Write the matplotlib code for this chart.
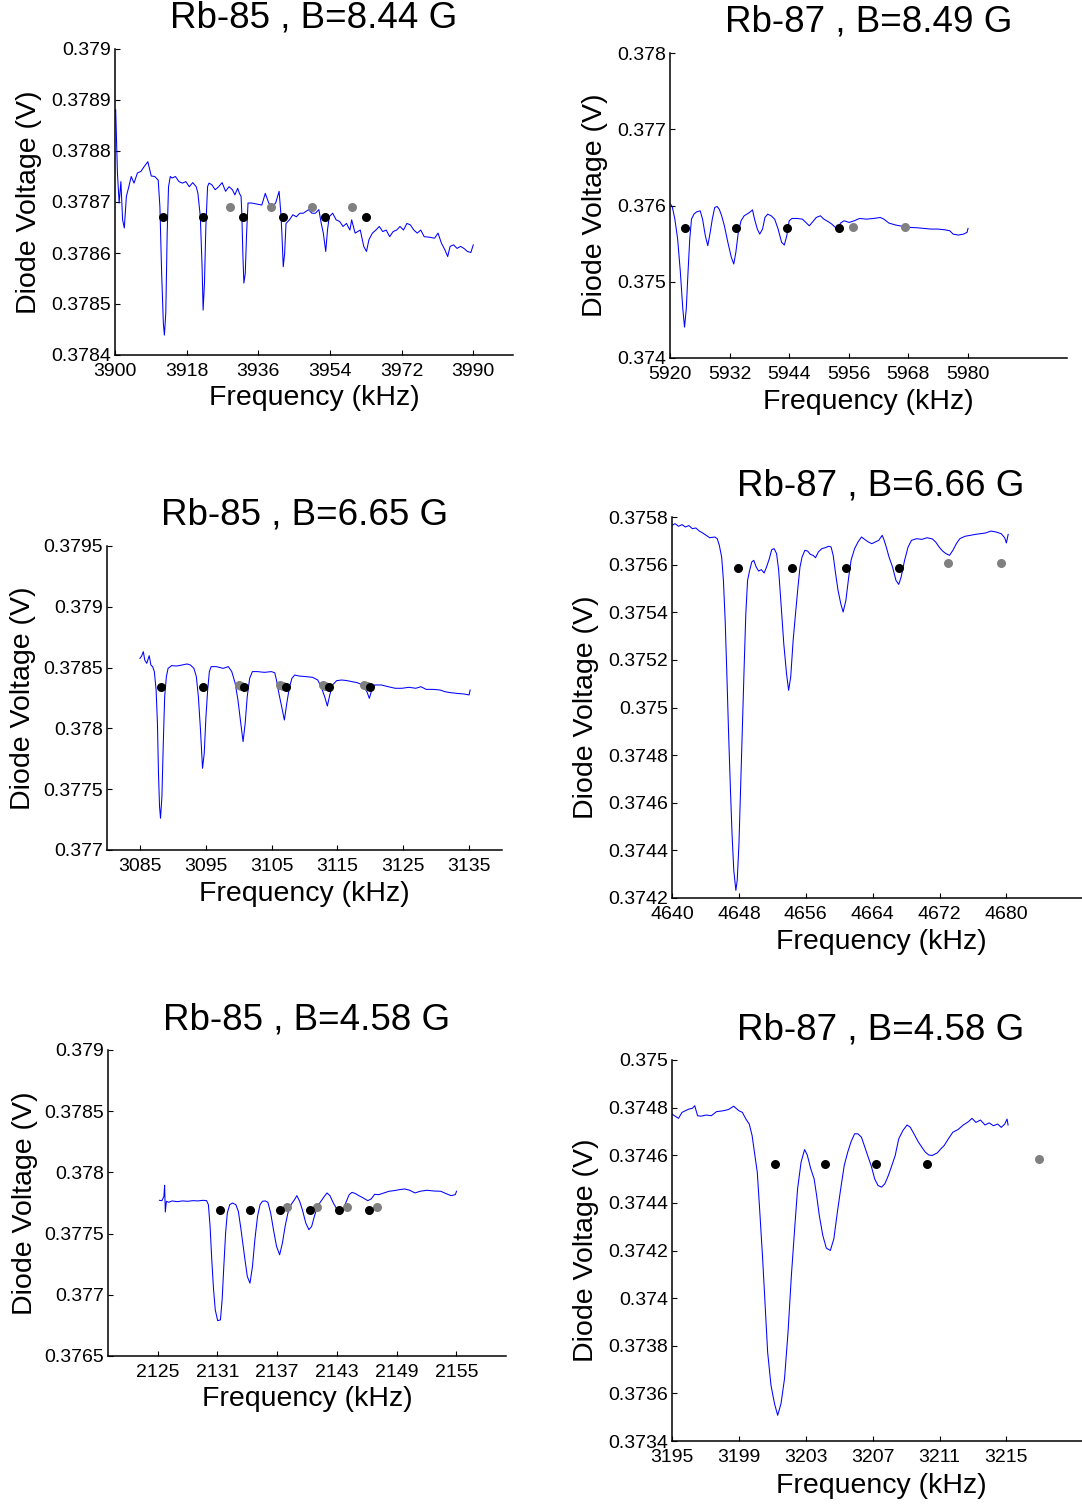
import matplotlib
matplotlib.use("Agg")
import matplotlib.pyplot as plt

plt.rcParams['font.family'] = ['Liberation Sans', 'DejaVu Sans']

# ---------------- data ----------------
# Panel 1: Rb-85, B=8.44 G
f85_844 = [3900.17, 3900.61, 3901.04, 3901.48, 3901.91, 3902.34, 3902.86, 3903.47, 3904.08, 3904.77,
           3905.64, 3906.51, 3907.38, 3908.25, 3909.11, 3909.98, 3910.85, 3911.28, 3911.72, 3912.15,
           3912.41, 3912.76, 3913.11, 3913.45, 3913.89, 3914.32, 3915.19, 3916.06, 3916.93, 3917.80,
           3918.66, 3919.53, 3920.40, 3920.83, 3921.44, 3921.88, 3922.14, 3922.48, 3922.83, 3923.26,
           3923.61, 3924.31, 3925.17, 3926.04, 3926.91, 3927.78, 3928.65, 3929.51, 3930.12, 3930.82,
           3931.25, 3931.68, 3931.86, 3932.12, 3932.38, 3932.73, 3933.07, 3933.42, 3934.29, 3935.59,
           3936.89, 3937.76, 3938.63, 3939.50, 3940.36, 3941.23, 3941.67, 3941.93, 3942.27, 3942.62,
           3942.97, 3943.84, 3944.70, 3945.57, 3946.44, 3947.31, 3948.61, 3949.48, 3950.35, 3951.22,
           3951.82, 3952.34, 3952.95, 3953.39, 3953.82, 3954.69, 3955.56, 3956.42, 3957.29, 3958.16,
           3959.03, 3959.46, 3960.33, 3961.63, 3962.50, 3963.19, 3963.80, 3964.67, 3965.54, 3966.41,
           3967.27, 3968.14, 3969.01, 3969.88, 3970.75, 3971.61, 3972.48, 3973.35, 3974.22, 3975.09,
           3975.95, 3976.82, 3977.69, 3978.99, 3980.30, 3981.16, 3982.03, 3982.90, 3983.59, 3984.20,
           3985.07, 3985.94, 3986.81, 3987.67, 3988.54, 3989.41, 3990.02]
v85_844 = [0.378881, 0.378757, 0.378698, 0.378740, 0.378665, 0.378649, 0.378711, 0.378730, 0.378750, 0.378737,
           0.378757, 0.378760, 0.378770, 0.378779, 0.378751, 0.378750, 0.378743, 0.378691, 0.378560, 0.378462,
           0.378439, 0.378482, 0.378639, 0.378730, 0.378750, 0.378747, 0.378750, 0.378740, 0.378737, 0.378740,
           0.378730, 0.378738, 0.378730, 0.378717, 0.378671, 0.378573, 0.378488, 0.378541, 0.378652, 0.378730,
           0.378737, 0.378734, 0.378724, 0.378730, 0.378738, 0.378721, 0.378730, 0.378724, 0.378714, 0.378727,
           0.378717, 0.378711, 0.378678, 0.378599, 0.378541, 0.378560, 0.378639, 0.378698, 0.378698, 0.378696,
           0.378694, 0.378717, 0.378698, 0.378691, 0.378698, 0.378721, 0.378678, 0.378639, 0.378573, 0.378599,
           0.378658, 0.378665, 0.378675, 0.378671, 0.378678, 0.378678, 0.378685, 0.378678, 0.378678, 0.378685,
           0.378658, 0.378639, 0.378603, 0.378645, 0.378671, 0.378678, 0.378665, 0.378662, 0.378652, 0.378658,
           0.378645, 0.378665, 0.378639, 0.378645, 0.378613, 0.378603, 0.378626, 0.378639, 0.378645, 0.378652,
           0.378642, 0.378645, 0.378632, 0.378642, 0.378645, 0.378652, 0.378645, 0.378658, 0.378655, 0.378645,
           0.378639, 0.378645, 0.378632, 0.378631, 0.378629, 0.378639, 0.378619, 0.378606, 0.378593, 0.378613,
           0.378616, 0.378609, 0.378613, 0.378609, 0.378603, 0.378601, 0.378616]
black_f_85_844 = [3912.15, 3922.14, 3932.12, 3942.27, 3952.69, 3963.19]
black_v_85_844 = [0.378671] * 6
gray_f_85_844 = [3928.82, 3939.24, 3949.48, 3959.64]
gray_v_85_844 = [0.378691] * 4

# Panel 2: Rb-87, B=8.49 G
f87_849 = [5920.14, 5920.49, 5920.98, 5921.54, 5922.09, 5922.58, 5922.93, 5923.28, 5923.63, 5923.98,
           5924.33, 5924.82, 5925.38, 5926.08, 5926.56, 5927.12, 5927.61, 5928.10, 5928.52, 5929.01,
           5929.50, 5929.92, 5930.41, 5930.96, 5931.66, 5932.36, 5932.85, 5933.27, 5933.76, 5934.32,
           5934.94, 5935.50, 5936.20, 5936.62, 5937.04, 5937.60, 5938.09, 5938.65, 5939.13, 5939.69,
           5940.39, 5941.09, 5941.79, 5942.49, 5943.04, 5943.53, 5944.02, 5944.58, 5945.63, 5946.68,
           5947.37, 5948.07, 5948.77, 5949.47, 5950.31, 5951.01, 5951.91, 5952.61, 5953.31, 5953.80,
           5954.36, 5955.06, 5956.10, 5957.15, 5958.20, 5959.59, 5960.99, 5962.39, 5963.09, 5964.13,
           5965.53, 5966.93, 5968.32, 5969.72, 5971.12, 5972.51, 5973.91, 5975.31, 5976.36, 5977.05,
           5978.10, 5979.15, 5979.85, 5980.06]
v87_849 = [0.376017, 0.375974, 0.375821, 0.375560, 0.375124, 0.374645, 0.374405, 0.374645, 0.375124, 0.375560,
           0.375821, 0.375887, 0.375917, 0.375930, 0.375821, 0.375603, 0.375473, 0.375647, 0.375821, 0.375974,
           0.375987, 0.375952, 0.375865, 0.375734, 0.375517, 0.375320, 0.375233, 0.375386, 0.375647, 0.375800,
           0.375865, 0.375887, 0.375917, 0.375943, 0.375821, 0.375691, 0.375625, 0.375691, 0.375843, 0.375887,
           0.375865, 0.375821, 0.375691, 0.375517, 0.375482, 0.375603, 0.375800, 0.375830, 0.375830, 0.375821,
           0.375778, 0.375734, 0.375787, 0.375843, 0.375865, 0.375821, 0.375787, 0.375756, 0.375713, 0.375691,
           0.375769, 0.375800, 0.375778, 0.375800, 0.375830, 0.375821, 0.375830, 0.375843, 0.375821, 0.375769,
           0.375743, 0.375726, 0.375713, 0.375708, 0.375700, 0.375691, 0.375691, 0.375682, 0.375669, 0.375625,
           0.375612, 0.375625, 0.375647, 0.375700]
black_f_87_849 = [5922.93, 5933.20, 5943.53, 5954.01]
black_v_87_849 = [0.375699] * 4
gray_f_87_849 = [5956.94, 5967.28]
gray_v_87_849 = [0.375721] * 2

# Panel 3: Rb-85, B=6.65 G
f85_665 = [3085.00, 3085.26, 3085.52, 3085.73, 3086.04, 3086.41, 3086.67, 3086.93, 3087.19, 3087.46,
           3087.66, 3087.82, 3087.98, 3088.13, 3088.34, 3088.55, 3088.76, 3089.02, 3089.28, 3089.81,
           3090.59, 3091.37, 3092.16, 3092.68, 3093.20, 3093.57, 3093.88, 3094.20, 3094.51, 3094.77,
           3095.03, 3095.29, 3095.55, 3095.82, 3096.60, 3097.64, 3098.43, 3098.95, 3099.47, 3099.89,
           3100.26, 3100.67, 3100.99, 3101.30, 3101.67, 3102.08, 3102.87, 3103.91, 3104.96, 3105.48,
           3105.74, 3106.11, 3106.53, 3106.94, 3107.31, 3107.68, 3108.09, 3108.51, 3109.14, 3110.18,
           3111.23, 3112.01, 3112.53, 3113.06, 3113.47, 3113.84, 3114.26, 3114.89, 3115.67, 3116.45,
           3117.24, 3118.02, 3118.80, 3119.48, 3119.85, 3120.21, 3120.63, 3121.68, 3122.72, 3123.77,
           3124.81, 3125.86, 3126.90, 3127.69, 3128.47, 3129.51, 3130.56, 3131.34, 3132.13, 3133.17,
           3134.22, 3135.00, 3135.16]
v85_665 = [0.378576, 0.378595, 0.378631, 0.378563, 0.378535, 0.378598, 0.378521, 0.378508, 0.378467, 0.378316,
           0.378042, 0.377631, 0.377357, 0.377261, 0.377439, 0.377877, 0.378261, 0.378426, 0.378494, 0.378516,
           0.378513, 0.378521, 0.378530, 0.378521, 0.378494, 0.378426, 0.378261, 0.377987, 0.377672, 0.377795,
           0.378097, 0.378316, 0.378467, 0.378508, 0.378508, 0.378494, 0.378508, 0.378467, 0.378371, 0.378234,
           0.378069, 0.377891, 0.378042, 0.378261, 0.378412, 0.378467, 0.378467, 0.378461, 0.378467, 0.378458,
           0.378398, 0.378288, 0.378179, 0.378069, 0.378206, 0.378330, 0.378412, 0.378439, 0.378431, 0.378426,
           0.378420, 0.378398, 0.378343, 0.378261, 0.378184, 0.378275, 0.378357, 0.378393, 0.378398, 0.378393,
           0.378384, 0.378376, 0.378357, 0.378302, 0.378247, 0.378316, 0.378357, 0.378357, 0.378343, 0.378330,
           0.378330, 0.378338, 0.378330, 0.378343, 0.378321, 0.378321, 0.378316, 0.378302, 0.378294, 0.378288,
           0.378283, 0.378275, 0.378316]
black_f_85_665 = [3088.13, 3094.51, 3100.88, 3107.20, 3113.68, 3120.01]
black_v_85_665 = [0.378338] * 6
gray_f_85_665 = [3099.98, 3100.38, 3106.30, 3106.70, 3112.78, 3113.18, 3119.11, 3119.51]
gray_v_85_665 = [0.378355, 0.378348] * 4

# Panel 4: Rb-87, B=6.66 G
f87_666 = [4640.00, 4640.37, 4640.78, 4641.20, 4641.61, 4642.02, 4642.44, 4642.85, 4643.26, 4643.67,
           4644.09, 4644.50, 4645.12, 4645.41, 4645.66, 4645.94, 4646.15, 4646.36, 4646.56, 4646.77,
           4646.98, 4647.18, 4647.39, 4647.64, 4647.80, 4648.01, 4648.21, 4648.42, 4648.63, 4648.83,
           4649.04, 4649.29, 4649.54, 4649.78, 4650.07, 4650.36, 4650.69, 4651.02, 4651.31, 4651.64,
           4651.93, 4652.22, 4652.51, 4652.76, 4653.04, 4653.37, 4653.70, 4653.95, 4654.20, 4654.49,
           4654.74, 4655.03, 4655.31, 4655.56, 4655.89, 4656.22, 4656.55, 4656.88, 4657.17, 4657.50,
           4657.92, 4658.33, 4658.74, 4659.03, 4659.28, 4659.57, 4659.86, 4660.19, 4660.47, 4660.80,
           4661.14, 4661.42, 4661.84, 4662.25, 4662.66, 4663.08, 4663.49, 4663.90, 4664.31, 4664.73,
           4665.14, 4665.35, 4665.63, 4665.96, 4666.38, 4666.79, 4667.12, 4667.41, 4667.82, 4668.24,
           4668.65, 4669.27, 4669.89, 4670.51, 4671.13, 4671.54, 4671.95, 4672.37, 4672.78, 4673.19,
           4673.60, 4674.01, 4674.43, 4675.05, 4675.67, 4676.28, 4676.90, 4677.52, 4678.14, 4678.76,
           4679.38, 4679.79, 4680.00, 4680.21]
v87_666 = [0.375765, 0.375772, 0.375761, 0.375768, 0.375758, 0.375764, 0.375751, 0.375754, 0.375741, 0.375733,
           0.375723, 0.375713, 0.375716, 0.375709, 0.375681, 0.375632, 0.375534, 0.375366, 0.375142, 0.374890,
           0.374666, 0.374470, 0.374316, 0.374232, 0.374274, 0.374428, 0.374666, 0.374918, 0.375170, 0.375394,
           0.375534, 0.375576, 0.375611, 0.375618, 0.375590, 0.375573, 0.375579, 0.375565, 0.375590, 0.375625,
           0.375663, 0.375667, 0.375646, 0.375576, 0.375436, 0.375268, 0.375142, 0.375072, 0.375128, 0.375282,
           0.375380, 0.375492, 0.375590, 0.375632, 0.375660, 0.375657, 0.375643, 0.375639, 0.375629, 0.375653,
           0.375667, 0.375671, 0.375677, 0.375674, 0.375639, 0.375562, 0.375492, 0.375436, 0.375401, 0.375450,
           0.375548, 0.375618, 0.375667, 0.375695, 0.375716, 0.375705, 0.375695, 0.375688, 0.375695, 0.375702,
           0.375723, 0.375705, 0.375674, 0.375632, 0.375590, 0.375534, 0.375517, 0.375548, 0.375618, 0.375674,
           0.375702, 0.375709, 0.375706, 0.375713, 0.375708, 0.375695, 0.375674, 0.375657, 0.375646, 0.375639,
           0.375660, 0.375688, 0.375709, 0.375719, 0.375723, 0.375727, 0.375730, 0.375733, 0.375741, 0.375737,
           0.375730, 0.375713, 0.375691, 0.375727]
black_f_87_666 = [4647.93, 4654.41, 4660.81, 4667.20]
black_v_87_666 = [0.375587] * 4
gray_f_87_666 = [4672.98, 4679.30]
gray_v_87_666 = [0.375608] * 2

# Panel 5: Rb-85, B=4.58 G
f85_458 = [2125.17, 2125.42, 2125.62, 2125.69, 2125.76, 2125.87, 2126.11, 2126.45, 2126.97, 2127.49,
           2128.01, 2128.53, 2129.05, 2129.57, 2129.91, 2130.09, 2130.26, 2130.43, 2130.61, 2130.78,
           2131.02, 2131.30, 2131.47, 2131.64, 2131.82, 2131.99, 2132.23, 2132.51, 2132.85, 2133.10,
           2133.37, 2133.72, 2134.00, 2134.27, 2134.52, 2134.76, 2135.03, 2135.28, 2135.52, 2135.80,
           2136.07, 2136.35, 2136.63, 2136.94, 2137.25, 2137.53, 2137.80, 2138.08, 2138.39, 2138.74,
           2138.98, 2139.26, 2139.53, 2139.88, 2140.19, 2140.47, 2140.74, 2141.06, 2141.40, 2141.75,
           2142.02, 2142.30, 2142.65, 2142.99, 2143.34, 2143.69, 2143.96, 2144.24, 2144.52, 2144.86,
           2145.21, 2145.66, 2146.11, 2146.45, 2146.80, 2147.21, 2147.73, 2148.25, 2148.77, 2149.29,
           2149.81, 2150.33, 2150.85, 2151.37, 2152.06, 2152.75, 2153.44, 2153.96, 2154.48, 2154.90,
           2155.03]
v85_458 = [0.377772, 0.377769, 0.377805, 0.377895, 0.377676, 0.377764, 0.377756, 0.377767, 0.377761, 0.377767,
           0.377764, 0.377769, 0.377767, 0.377772, 0.377769, 0.377736, 0.377559, 0.377286, 0.377041, 0.376877,
           0.376789, 0.376795, 0.376959, 0.377232, 0.377505, 0.377668, 0.377736, 0.377750, 0.377736, 0.377682,
           0.377532, 0.377314, 0.377150, 0.377095, 0.377232, 0.377450, 0.377641, 0.377736, 0.377764, 0.377767,
           0.377756, 0.377668, 0.377532, 0.377395, 0.377327, 0.377423, 0.377559, 0.377668, 0.377736, 0.377777,
           0.377810, 0.377764, 0.377696, 0.377586, 0.377532, 0.377559, 0.377641, 0.377723, 0.377764, 0.377805,
           0.377832, 0.377810, 0.377750, 0.377701, 0.377687, 0.377709, 0.377764, 0.377818, 0.377837, 0.377827,
           0.377810, 0.377791, 0.377769, 0.377783, 0.377821, 0.377818, 0.377832, 0.377846, 0.377851, 0.377859,
           0.377865, 0.377854, 0.377832, 0.377846, 0.377854, 0.377848, 0.377846, 0.377827, 0.377810, 0.377818,
           0.377846]
black_f_85_458 = [2131.23, 2134.24, 2137.25, 2140.26, 2143.24, 2146.28]
black_v_85_458 = [0.377690] * 6
gray_f_85_458 = [2138.04, 2141.02, 2144.03, 2147.04]
gray_v_85_458 = [0.377717] * 4

# Panel 6: Rb-87, B=4.58 G
f87_458 = [3195.00, 3195.19, 3195.39, 3195.60, 3195.80, 3196.01, 3196.22, 3196.36, 3196.53, 3196.73,
           3197.04, 3197.35, 3197.66, 3198.08, 3198.38, 3198.69, 3199.00, 3199.21, 3199.42, 3199.62,
           3199.79, 3199.93, 3200.10, 3200.24, 3200.41, 3200.55, 3200.72, 3200.92, 3201.13, 3201.32,
           3201.52, 3201.73, 3201.94, 3202.14, 3202.35, 3202.51, 3202.72, 3202.93, 3203.09, 3203.30,
           3203.50, 3203.65, 3203.81, 3204.02, 3204.23, 3204.47, 3204.68, 3204.89, 3205.09, 3205.30,
           3205.51, 3205.71, 3205.92, 3206.12, 3206.33, 3206.50, 3206.70, 3206.91, 3207.12, 3207.32,
           3207.53, 3207.73, 3207.94, 3208.15, 3208.35, 3208.56, 3208.81, 3209.06, 3209.26, 3209.47,
           3209.74, 3209.94, 3210.15, 3210.36, 3210.56, 3210.87, 3211.08, 3211.28, 3211.53, 3211.80,
           3212.11, 3212.42, 3212.73, 3212.94, 3213.18, 3213.45, 3213.72, 3213.97, 3214.22, 3214.48,
           3214.69, 3214.90, 3215.04, 3215.10]
v87_458 = [0.374773, 0.374764, 0.374755, 0.374780, 0.374787, 0.374794, 0.374797, 0.374808, 0.374766, 0.374764,
           0.374769, 0.374766, 0.374783, 0.374787, 0.374792, 0.374806, 0.374787, 0.374780, 0.374752, 0.374731,
           0.374683, 0.374613, 0.374529, 0.374375, 0.374179, 0.373997, 0.373773, 0.373634, 0.373557, 0.373508,
           0.373557, 0.373662, 0.373857, 0.374095, 0.374305, 0.374459, 0.374571, 0.374624, 0.374601, 0.374543,
           0.374501, 0.374431, 0.374347, 0.374263, 0.374210, 0.374200, 0.374249, 0.374361, 0.374459, 0.374557,
           0.374613, 0.374657, 0.374690, 0.374690, 0.374676, 0.374641, 0.374599, 0.374557, 0.374501, 0.374473,
           0.374466, 0.374480, 0.374515, 0.374557, 0.374599, 0.374669, 0.374704, 0.374727, 0.374717, 0.374690,
           0.374655, 0.374634, 0.374613, 0.374601, 0.374599, 0.374610, 0.374627, 0.374641, 0.374669, 0.374697,
           0.374708, 0.374727, 0.374741, 0.374755, 0.374738, 0.374748, 0.374727, 0.374736, 0.374724, 0.374731,
           0.374717, 0.374731, 0.374752, 0.374727]
black_f_87_458 = [3201.19, 3204.16, 3207.20, 3210.25]
black_v_87_458 = [0.374564] * 4
gray_f_87_458 = [3216.96]
gray_v_87_458 = [0.374585]

titles = ["Rb-85 , B=8.44 G", "Rb-87 , B=8.49 G", "Rb-85 , B=6.65 G",
          "Rb-87 , B=6.66 G", "Rb-85 , B=4.58 G", "Rb-87 , B=4.58 G"]

xticks = [[3900, 3918, 3936, 3954, 3972, 3990],
          [5920, 5932, 5944, 5956, 5968, 5980],
          [3085, 3095, 3105, 3115, 3125, 3135],
          [4640, 4648, 4656, 4664, 4672, 4680],
          [2125, 2131, 2137, 2143, 2149, 2155],
          [3195, 3199, 3203, 3207, 3211, 3215]]
xlims = [(3900, 4000), (5920, 6000), (3080, 3140), (4640, 4690), (2120, 2160), (3195, 3220)]

ytick_labels = [["0.3784", "0.3785", "0.3786", "0.3787", "0.3788", "0.3789", "0.379"],
                ["0.374", "0.375", "0.376", "0.377", "0.378"],
                ["0.377", "0.3775", "0.378", "0.3785", "0.379", "0.3795"],
                ["0.3742", "0.3744", "0.3746", "0.3748", "0.375", "0.3752", "0.3754", "0.3756", "0.3758"],
                ["0.3765", "0.377", "0.3775", "0.378", "0.3785", "0.379"],
                ["0.3734", "0.3736", "0.3738", "0.374", "0.3742", "0.3744", "0.3746", "0.3748", "0.375"]]

curves = [(f85_844, v85_844), (f87_849, v87_849), (f85_665, v85_665),
          (f87_666, v87_666), (f85_458, v85_458), (f87_458, v87_458)]
blacks = [(black_f_85_844, black_v_85_844), (black_f_87_849, black_v_87_849),
          (black_f_85_665, black_v_85_665), (black_f_87_666, black_v_87_666),
          (black_f_85_458, black_v_85_458), (black_f_87_458, black_v_87_458)]
grays = [(gray_f_85_844, gray_v_85_844), (gray_f_87_849, gray_v_87_849),
         (gray_f_85_665, gray_v_85_665), (gray_f_87_666, gray_v_87_666),
         (gray_f_85_458, gray_v_85_458), (gray_f_87_458, gray_v_87_458)]

# ---------------- layout (pixels) ----------------
W, H = 1082, 1504
fig = plt.figure(figsize=(W / 100, H / 100), dpi=100)

boxes = [(115, 49, 513, 355), (670, 53, 1067, 358), (107, 546, 502, 850),
         (672, 517, 1090, 898), (108, 1050, 506, 1356), (672, 1060, 1090, 1441)]
title_y = [18, 22, 515, 486, 1020, 1030]
xlabel_y = [398, 402, 894, 942, 1399, 1486]
ylabel_x = [29, 595, 23, 586, 25, 586]

for i in range(6):
    l, t, r, b = boxes[i]
    ax = fig.add_axes([l / W, 1 - b / H, (r - l) / W, (b - t) / H])
    f, v = curves[i]
    ax.plot(f, v, color=(0, 0, 1), lw=0.75, zorder=2)
    gf, gv = grays[i]
    ax.plot(gf, gv, 'o', color=(0.5, 0.5, 0.5), ms=6.5, mec='none', zorder=3)
    bf, bv = blacks[i]
    ax.plot(bf, bv, 'o', color='black', ms=6.5, mec='none', zorder=4)

    ax.set_xlim(*xlims[i])
    ax.set_xticks(xticks[i])
    ax.set_xticklabels([str(x) for x in xticks[i]])
    yl = ytick_labels[i]
    yvals = [float(s) for s in yl]
    ax.set_ylim(yvals[0], yvals[-1])
    ax.set_yticks(yvals)
    ax.set_yticklabels(yl)

    for s in ('top', 'right'):
        ax.spines[s].set_visible(False)
    for s in ('left', 'bottom'):
        ax.spines[s].set_linewidth(1.1)
    ax.tick_params(direction='in', length=3.5, width=0.8, labelsize=14)
    ax.tick_params(axis='x', pad=6)
    ax.tick_params(axis='y', pad=3)
    ax.patch.set_alpha(0)

    cx = (l + r) / 2
    fig.text(cx / W, 1 - title_y[i] / H, titles[i], ha='center', va='center', fontsize=26.5)
    fig.text(cx / W, 1 - xlabel_y[i] / H, "Frequency (kHz)", ha='center', va='center', fontsize=20.5)
    fig.text(ylabel_x[i] / W, 1 - ((t + b) / 2) / H, "Diode Voltage (V)", ha='center', va='center',
             rotation=90, fontsize=20.5)

fig.savefig("out.png", dpi=100, facecolor='white')
